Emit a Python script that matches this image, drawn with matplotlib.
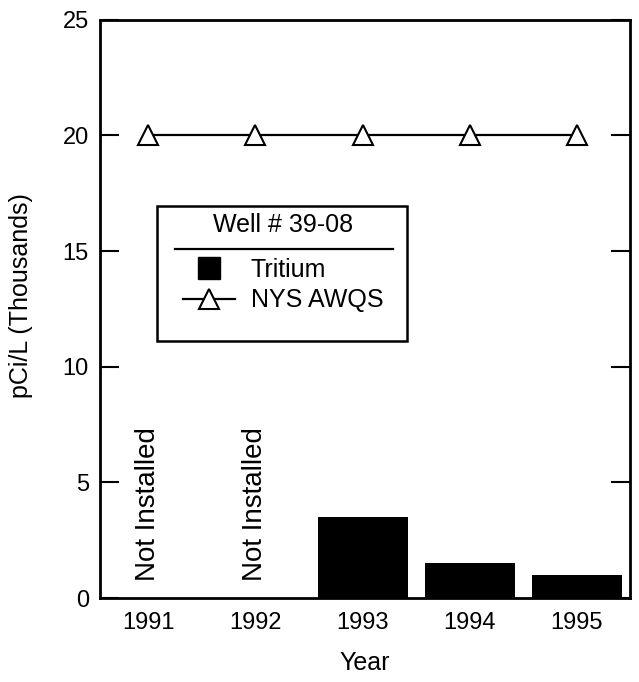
import matplotlib.pyplot as plt
from matplotlib.lines import Line2D
from matplotlib.patches import Rectangle

plt.rcParams['font.family'] = ['Liberation Sans', 'DejaVu Sans']

years = ["1991", "1992", "1993", "1994", "1995"]
tritium = [0, 0, 3.5, 1.5, 1.0]          # thousands pCi/L, 1991-92 not installed
awqs = [20, 20, 20, 20, 20]
not_installed = ["1991", "1992"]

fig = plt.figure(figsize=(6.39, 6.82), dpi=100)
ax = fig.add_axes([0.1565, 0.123, 0.83, 0.848])

x = list(range(len(years)))
ax.bar(x, tritium, width=0.84, color="black")
ax.plot(x, awqs, color="black", linewidth=1.6, marker="^", markersize=15,
        markerfacecolor="white", markeredgecolor="black", markeredgewidth=1.5,
        clip_on=False)

for yr in not_installed:
    ax.text(years.index(yr), 0.75, "Not Installed", rotation=90, ha="center",
            va="bottom", fontsize=20)

ax.set_xlim(-0.45, 4.5)
ax.set_ylim(0, 25)
ax.set_xticks(x)
ax.set_xticklabels(years)
ax.set_yticks([0, 5, 10, 15, 20, 25])
ax.tick_params(axis="x", length=0, pad=10, labelsize=17)
ax.tick_params(axis="y", direction="in", length=14, width=1.5, pad=8,
               labelsize=17, right=True)
for s in ax.spines.values():
    s.set_linewidth(2)

ax.set_xlabel("Year", fontsize=18, labelpad=12)
ax.set_ylabel("pCi/L (Thousands)", fontsize=18)
ax.yaxis.set_label_coords(-0.126, 0.524)

# legend box, title and underline drawn in axes fraction
ax.add_patch(Rectangle((0.1075, 0.4446), 0.4717, 0.2336, transform=ax.transAxes,
                       facecolor="white", edgecolor="black", linewidth=1.8,
                       zorder=4))
ax.text(0.345, 0.645, "Well # 39-08", transform=ax.transAxes, ha="center",
        va="center", fontsize=18, zorder=5)
ax.add_line(Line2D([0.142, 0.553], [0.604, 0.604], transform=ax.transAxes,
                   color="black", linewidth=1.6, zorder=5))

handles = [
    Line2D([], [], linestyle="none", marker="s", markersize=16,
           markerfacecolor="black", markeredgecolor="black"),
    Line2D([], [], color="black", linewidth=1.6, marker="^", markersize=15,
           markerfacecolor="white", markeredgecolor="black", markeredgewidth=1.5),
]
leg = ax.legend(handles, ["Tritium", "NYS AWQS"], loc="upper left",
                bbox_to_anchor=(0.157, 0.588), borderaxespad=0, borderpad=0,
                fontsize=18, frameon=False, handlelength=2.05,
                handletextpad=0.65, labelspacing=0.25)
leg.set_zorder(6)

fig.savefig("out.png", dpi=100)
